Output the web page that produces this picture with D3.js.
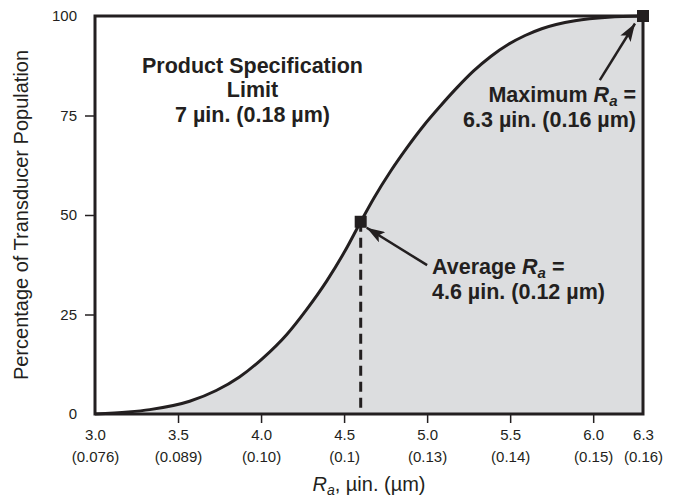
<!DOCTYPE html>
<html><head><meta charset="utf-8">
<script src="https://cdn.jsdelivr.net/npm/d3@7"></script>
<style>
body{margin:0;background:#fff}
text{font-family:"Liberation Sans",Arial,Helvetica,sans-serif;fill:#231f20}
</style>
</head><body><svg id="c" width="684" height="498"></svg>
<script>
// ---- data ----
const raValues      = [3.0, 3.2, 3.33, 3.57, 3.73, 3.87, 4.01, 4.155, 4.275, 4.395, 4.506, 4.6, 4.68, 4.78, 4.88, 4.98, 5.08, 5.18, 5.28, 5.385, 5.49, 5.59, 5.69, 5.89, 6.09, 6.3];
const populationPct = [0, 0.5, 1.1, 3.2, 5.9, 9.3, 14.0, 20.0, 26.3, 33.4, 41.0, 48.3, 54.3, 61.0, 67.0, 72.5, 77.4, 82.0, 86.2, 89.9, 92.9, 95.1, 96.8, 98.8, 99.7, 100];
const xTickValues = [3.0, 3.5, 4.0, 4.5, 5.0, 5.5, 6.0, 6.3];
const xTickLabels = ["3.0", "3.5", "4.0", "4.5", "5.0", "5.5", "6.0", "6.3"];
const xTickMetric = ["(0.076)", "(0.089)", "(0.10)", "(0.1)", "(0.13)", "(0.14)", "(0.15)", "(0.16)"];
const yTickValues = [0, 25, 50, 75, 100];
const averagePoint = {ra: 4.6, pct: 48.3};
const maximumPoint = {ra: 6.3, pct: 100};
const specLines = ["Product Specification", "Limit", "7 µin. (0.18 µm)"];

const ink = "#231f20";
const svg = d3.select("#c");
const x = d3.scaleLinear().domain([3.0, 6.3]).range([95, 643]);
const y = d3.scaleLinear().domain([0, 100]).range([414, 16]);
const pts = raValues.map((r, i) => ({r, p: populationPct[i]}));

// area fill
svg.append("path").datum(pts)
  .attr("d", d3.area().x(d => x(d.r)).y0(y(0)).y1(d => y(d.p)).curve(d3.curveMonotoneX))
  .attr("fill", "#dcdddf");

// dashed line at average
svg.append("line")
  .attr("x1", x(averagePoint.ra)).attr("x2", x(averagePoint.ra))
  .attr("y1", y(averagePoint.pct)).attr("y2", y(0) - 6)
  .attr("stroke", ink).attr("stroke-width", 3).attr("stroke-dasharray", "10,6");

// axes
const xAxis = svg.append("g").attr("transform", `translate(0,${y(0)})`)
  .call(d3.axisBottom(x).tickValues(xTickValues).tickSize(9).tickFormat(""));
xAxis.select(".domain").remove();
xAxis.selectAll(".tick line").attr("stroke", ink).attr("stroke-width", 1.5)
  .attr("opacity", (d, i) => (i === 0 || i === xTickValues.length - 1) ? 0 : 1);
xAxis.selectAll(".tick").each(function(d, i) {
  const t = d3.select(this).append("text").attr("text-anchor", "middle")
    .attr("font-size", 15).attr("fill", ink);
  t.append("tspan").attr("x", 0).attr("y", 26).text(xTickLabels[i]);
  t.append("tspan").attr("x", 0).attr("y", 48).text(xTickMetric[i]);
});

const yAxis = svg.append("g").attr("transform", `translate(${x(3.0)},0)`)
  .call(d3.axisLeft(y).tickValues(yTickValues).tickSize(10).tickPadding(8));
yAxis.select(".domain").remove();
yAxis.selectAll(".tick line").attr("stroke", ink).attr("stroke-width", 1.5)
  .attr("opacity", d => (d === 0 || d === 100) ? 0 : 1);
yAxis.selectAll(".tick text").attr("font-size", 15).attr("fill", ink)
  .style("font-family", '"Liberation Sans",Arial,sans-serif');

// frame
svg.append("rect").attr("x", x(3.0)).attr("y", y(100))
  .attr("width", x(6.3) - x(3.0)).attr("height", y(0) - y(100))
  .attr("fill", "none").attr("stroke", ink).attr("stroke-width", 3);

// curve
svg.append("path").datum(pts)
  .attr("d", d3.line().x(d => x(d.r)).y(d => y(d.p)).curve(d3.curveMonotoneX))
  .attr("fill", "none").attr("stroke", ink).attr("stroke-width", 3);

// markers
[averagePoint, maximumPoint].forEach(p => {
  svg.append("rect").attr("x", x(p.ra) - 6).attr("y", y(p.pct) - 6)
    .attr("width", 12).attr("height", 12).attr("fill", ink);
});

// arrows
svg.append("defs").append("marker").attr("id", "ah")
  .attr("markerUnits", "userSpaceOnUse").attr("markerWidth", 20).attr("markerHeight", 12)
  .attr("refX", 18).attr("refY", 6).attr("orient", "auto")
  .append("path").attr("d", "M0,0 L18,6 L0,12 L4,6 Z").attr("fill", ink);

function arrow(fromRa, fromPct, p, dx, dy) {
  svg.append("line")
    .attr("x1", x(fromRa)).attr("y1", y(fromPct))
    .attr("x2", x(p.ra) + dx).attr("y2", y(p.pct) + dy)
    .attr("stroke", ink).attr("stroke-width", 2.5).attr("marker-end", "url(#ah)");
}
arrow(5.0, 37.4, averagePoint, 6, 6);
arrow(6.04, 83.9, maximumPoint, -8, 7.5);

// annotation texts
const spec = svg.append("text").attr("text-anchor", "middle").attr("font-size", 21.5).attr("font-weight", "bold");
specLines.forEach((s, i) => spec.append("tspan").attr("x", 252.5).attr("y", 72.5 + i * 24.5).text(s));

function raLabel(g, xp, yp, anchor, valueLine) {
  const t = g.append("text").attr("text-anchor", anchor).attr("font-size", 21.5).attr("font-weight", "bold");
  const l1 = t.append("tspan").attr("x", xp).attr("y", yp);
  l1.append("tspan").text(anchor === "end" ? "Maximum " : "Average ");
  l1.append("tspan").attr("font-style", "italic").text("R");
  l1.append("tspan").attr("font-style", "italic").attr("font-size", 15).attr("dy", 4).text("a");
  l1.append("tspan").attr("dy", -4).text(" =");
  t.append("tspan").attr("x", xp).attr("y", yp + 24.5).text(valueLine);
}
raLabel(svg, 636, 102, "end", "6.3 µin. (0.16 µm)");
raLabel(svg, 432, 274, "start", "4.6 µin. (0.12 µm)");

// axis titles
const xt = svg.append("text").attr("x", 369).attr("y", 491).attr("text-anchor", "middle").attr("font-size", 20);
xt.append("tspan").attr("font-style", "italic").text("R");
xt.append("tspan").attr("font-style", "italic").attr("font-size", 14).attr("dy", 4).text("a");
xt.append("tspan").attr("dy", -4).text(", µin. (µm)");

svg.append("text").attr("transform", "translate(28,215) rotate(-90)")
  .attr("text-anchor", "middle").attr("font-size", 20).text("Percentage of Transducer Population");
</script>
</body></html>
